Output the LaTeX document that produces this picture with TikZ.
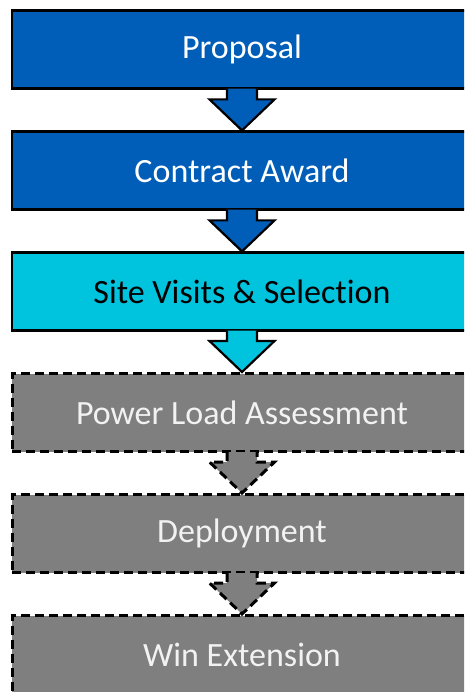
\documentclass[tikz,border=0pt]{standalone}
\usepackage{fontspec}
\setmainfont{Carlito}[Ligatures={NoCommon}]
\usetikzlibrary{calc}
\definecolor{bblue}{HTML}{005EB8}
\definecolor{bcyan}{HTML}{00C3DD}
\definecolor{bgray}{HTML}{7F7F7F}
\definecolor{lighttext}{HTML}{F2F2F2}
\tikzset{
  stage/.style={rectangle, minimum width=460pt, minimum height=78pt, line width=2.2pt, draw=black, inner sep=0pt, font=\fontsize{34}{40}\selectfont},
  donestage/.style={stage, text=white},
  curstage/.style={stage, text=black},
  planstage/.style={stage, text=lighttext, line width=3pt, dash pattern=on 9pt off 5pt},
  solidarrow/.style={draw=black, line width=2.2pt, line join=miter},
  planarrow/.style={draw=black, line width=3pt, dash pattern=on 9pt off 5pt, line join=miter},
}
\newcommand\blockarr[3]{%
  \path[#3] ($(#1.south)+(-15,-1)$) -- ($(#2.north)+(-15,-31)$) -- ($(#2.north)+(-32.5,-31)$) -- (#2.north) -- ($(#2.north)+(32.5,-31)$) -- ($(#2.north)+(15,-31)$) -- ($(#1.south)+(15,-1)$);}
\begin{document}
\begin{tikzpicture}[x=1pt, y=-1pt]
\useasboundingbox (0,0) rectangle (464,692);
\clip (0,0) rectangle (464,692);
\fill[white] (0,0) rectangle (464,692);
\node[donestage, fill=bblue] (s1) at (242,49.5) {Proposal};
\node[donestage, fill=bblue] (s2) at (242,170.5) {Contract Award};
\node[curstage, fill=bcyan] (s3) at (242,291.5) {Site Visits \& Selection};
\node[planstage, fill=bgray] (s4) at (242,412.5) {Power Load Assessment};
\node[planstage, fill=bgray] (s5) at (242,533.5) {Deployment};
\node[planstage, fill=bgray] (s6) at (242,654.5) {Win Extension};
\blockarr{s1}{s2}{solidarrow, fill=bblue}
\blockarr{s2}{s3}{solidarrow, fill=bblue}
\blockarr{s3}{s4}{solidarrow, fill=bcyan}
\blockarr{s4}{s5}{planarrow, fill=bgray}
\blockarr{s5}{s6}{planarrow, fill=bgray}
\end{tikzpicture}
\end{document}
